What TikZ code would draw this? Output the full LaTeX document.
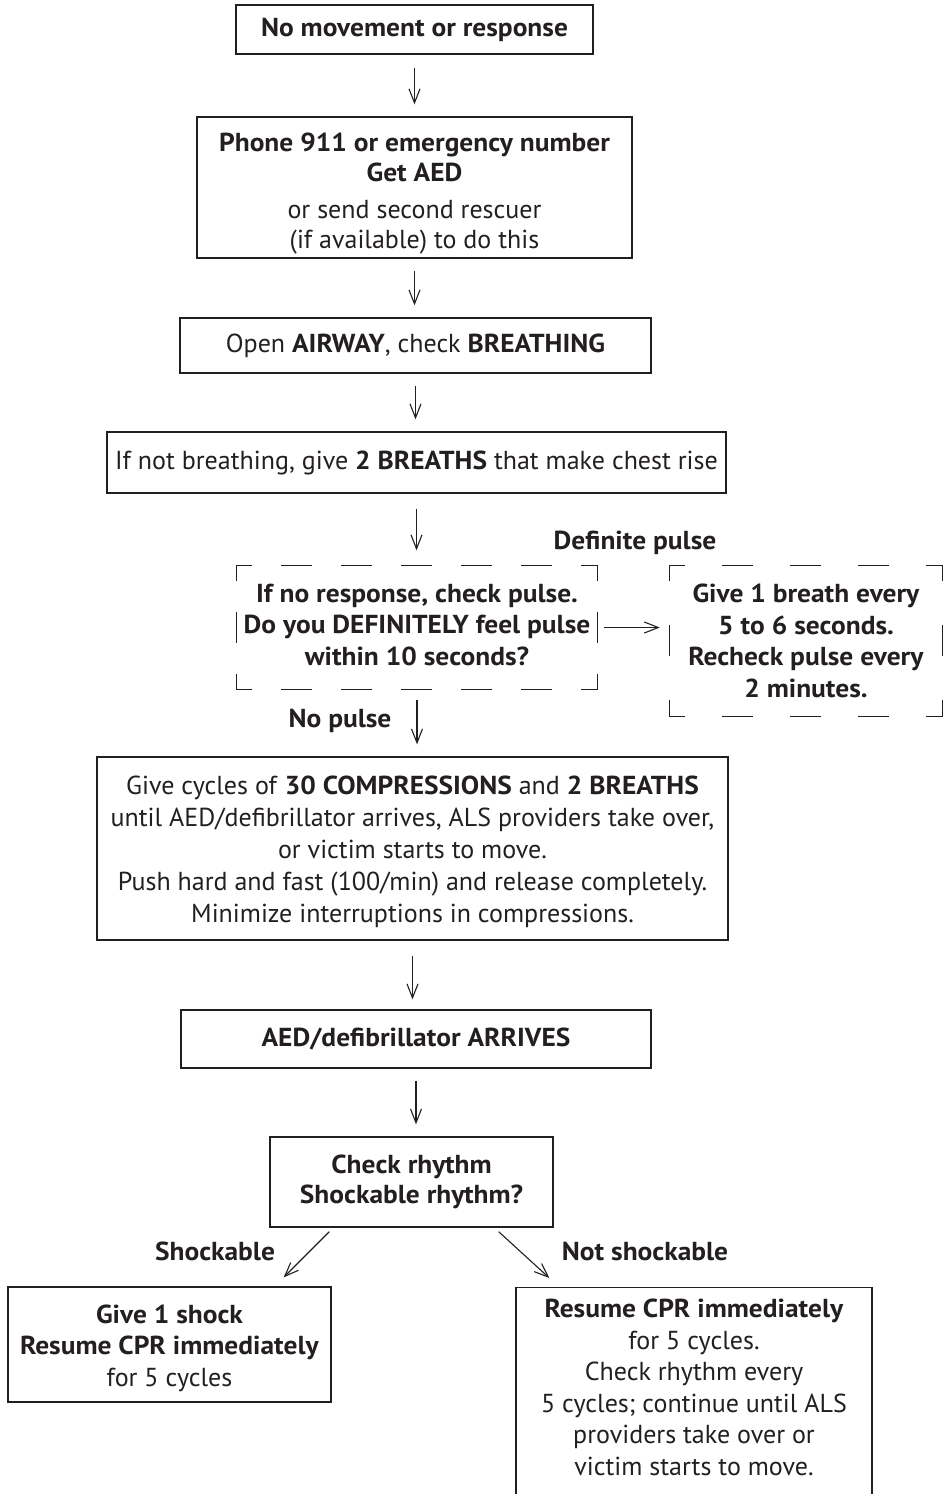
\documentclass[tikz,border=0pt]{standalone}
\usepackage{fontspec}
\setmainfont{PT Sans}[BoldFeatures={FakeStretch=1.055}]
\usetikzlibrary{arrows.meta}
\definecolor{ink}{HTML}{231F20}
\newcommand\myfs{\fontsize{26}{31.5}\selectfont}
\begin{document}
\begin{tikzpicture}[x=1pt,y=-1pt,
  box/.style={draw=ink, line width=1.3pt, inner sep=0pt, align=center, text=ink, font=\myfs},
  txt/.style={inner sep=0pt, align=center, text=ink, font=\myfs},
  lbl/.style={inner sep=0pt, text=ink, font=\myfs\bfseries},
  arr/.style={draw=ink, line width=1.1pt, -{Straight Barb[length=14pt,width=11pt,line width=1.1pt]}},
  dsh/.style={draw=ink, line width=1.3pt, line cap=rect},
  dashHl/.style={dsh, dash pattern=on 30pt off 30pt, dash phase=15pt},
  dashVl/.style={dsh, dash pattern=on 30pt off 32pt, dash phase=15pt},
  dashHr/.style={dsh, dash pattern=on 30pt off 38pt, dash phase=15pt},
  dashVr/.style={dsh, dash pattern=on 30pt off 45pt, dash phase=15pt},
]
\useasboundingbox (0,0) rectangle (946,1494);
\clip (0,0) rectangle (946,1494);

\node[box, minimum width=357pt, minimum height=49pt] (r1) at (414.5,29.5)
  {\textbf{No movement or response}};
\node[box, minimum width=435pt, minimum height=141pt] (r2) at (414.5,187.5) {};
\node[txt] (r2t) at (414.5,193.5)
  {\textbf{Phone 911 or emergency number}\\[-1.5pt] \textbf{Get AED}\\[6pt] or send second rescuer\\[-1.5pt] (if available) to do this};
\node[box, minimum width=471pt, minimum height=55pt] (r3) at (415.5,345.5)
  {Open \textbf{AIRWAY}, check \textbf{BREATHING}};
\node[box, minimum width=619pt, minimum height=61pt] (r4) at (416.5,462.5)
  {If not breathing, give \textbf{2 BREATHS} that make chest rise};

\node[txt, minimum width=360pt, minimum height=124pt] (dl) at (417,627.5) {};
\node[txt] (dlt) at (417,624.5)
  {\textbf{If no response, check pulse.}\\ \textbf{Do you DEFINITELY feel pulse}\\ \textbf{within 10 seconds?}};
\draw[dashHl] (dl.north west) -- (dl.north east);
\draw[dashHl] (dl.south west) -- (dl.south east);
\draw[dashVl] (dl.north west) -- (dl.south west);
\draw[dashVl] (dl.north east) -- (dl.south east);

\node[txt, minimum width=272pt, minimum height=150pt] (dr) at (806,641)
  {\textbf{Give 1 breath every}\\ \textbf{5 to 6 seconds.}\\ \textbf{Recheck pulse every}\\ \textbf{2 minutes.}};
\draw[dashHr] (dr.north west) -- (dr.north east);
\draw[dashHr] (dr.south west) -- (dr.south east);
\draw[dashVr] (dr.north west) -- (dr.south west);
\draw[dashVr] (dr.north east) -- (dr.south east);

\node[box, minimum width=631pt, minimum height=183pt] (r5) at (412.5,848.5) {};
\node[txt, font=\fontsize{26}{32}\selectfont] (r5t) at (412.5,851.5)
  {Give cycles of \textbf{30 COMPRESSIONS} and \textbf{2 BREATHS}\\ until AED/defibrillator arrives, ALS providers take over,\\ or victim starts to move.\\ Push hard and fast (100/min) and release completely.\\ Minimize interruptions in compressions.};
\node[box, minimum width=470pt, minimum height=58pt] (r6) at (416,1039)
  {\textbf{AED/defibrillator ARRIVES}};
\node[box, minimum width=283pt, minimum height=90pt] (r7) at (411.5,1182)
  {\textbf{Check rhythm}\\[-1.5pt] \textbf{Shockable rhythm?}};
\node[box, minimum width=323pt, minimum height=115pt] (r8) at (169.5,1344.5) {};
\node[txt] (r8t) at (169.5,1348)
  {\textbf{Give 1 shock}\\ \textbf{Resume CPR immediately}\\ for 5 cycles};
\node[box, minimum width=356pt, minimum height=240pt, anchor=north] (r9) at (694,1287) {};
\node[txt] (r9t) at (694,1387.5)
  {\textbf{Resume CPR immediately}\\ for 5 cycles.\\ Check rhythm every\\ 5 cycles; continue until ALS\\ providers take over or\\ victim starts to move.};

\node[lbl] (ldp) at (635,543) {Definite pulse};
\node[lbl] (lnp) at (340,721) {No pulse};
\node[lbl] (lsh) at (215,1251) {Shockable};
\node[lbl] (lns) at (645,1251) {Not shockable};

\draw[arr, shorten <=13pt, shorten >=12pt] (r1.south) -- (r1.south |- r2.north);
\draw[arr, shorten <=12pt, shorten >=12pt] (r2.south) -- (r2.south |- r3.north);
\draw[arr, shorten <=12pt, shorten >=12pt] (r3.south) -- (r3.south |- r4.north);
\draw[arr, shorten <=15pt, shorten >=15pt] (r4.south) -- (r4.south |- dl.north);
\draw[arr, shorten <=7pt, shorten >=10pt] (dl.east) -- (dl.east -| dr.west);
\draw[arr, shorten <=10pt, shorten >=12pt] (dl.south) -- (dl.south |- r5.north);
\draw[arr, shorten <=15pt, shorten >=10pt] (r5.south) -- (r5.south |- r6.north);
\draw[arr, shorten <=12pt, shorten >=12pt] (r6.south) -- (r6.south |- r7.north);

\coordinate (s1) at ([shift={(60,4)}]r7.south west);
\coordinate (e1) at ([shift={(-48,-9)}]r8.north east);
\coordinate (s2) at ([shift={(-55,4)}]r7.south east);
\coordinate (e2) at ([shift={(34,-9)}]r9.north west);
\draw[arr] (s1) -- (e1);
\draw[arr] (s2) -- (e2);
\end{tikzpicture}
\end{document}
